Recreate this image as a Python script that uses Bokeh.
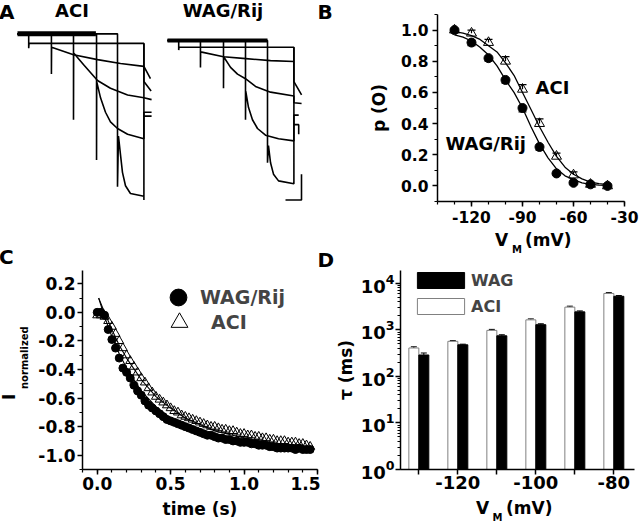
import math
from bokeh.plotting import figure
from bokeh.layouts import column, row
from bokeh.models import (Range1d, FixedTicker, Label, Legend, LegendItem, Whisker, Div,
                          ColumnDataSource, TeeHead, LogTicker, LogTickFormatter,
                          PrintfTickFormatter)
from bokeh.embed import file_html
from bokeh.resources import INLINE

FONT = "DejaVu Sans"

# ---------------- Panel A: current traces (time in s, current in nA) ----------------
ACI_T1 = [0, 0.7, 0.7, 0.72, 7.9, 7.9, 8.35]
ACI_I1 = [0, 0, -0.56, -0.37, -0.37, -1.85, -2.22]
ACI_T2 = [0, 2.12, 2.12, 2.13, 3.5, 5.0, 6.44, 7.9, 8.31]
ACI_I2 = [0, 0, -1.56, -0.52, -0.81, -1.0, -1.15, -1.26, -1.74]
ACI_T3 = [0, 3.5, 3.5, 3.51, 4.12, 5.0, 5.81, 6.88, 7.9, 8.38]
ACI_I3 = [0, 0, -3.33, -0.74, -1.19, -1.81, -2.11, -2.37, -2.48, -2.55]
ACI_T4 = [0, 4.94, 4.94, 4.95, 5.19, 5.5, 5.81, 6.25, 6.88, 7.9, 7.9, 8.38]
ACI_I4 = [0, 0, -4.89, -1.85, -2.48, -3.04, -3.41, -3.67, -3.89, -4.07, -3.04, -3.04]
ACI_T5 = [0, 6.25, 6.25, 6.31, 6.44, 6.56, 6.75, 7.06, 7.9, 7.9, 7.9, 7.9, 8.38]
ACI_I5 = [0, 0, -5.93, -3.96, -4.7, -5.37, -5.89, -6.19, -6.3, -6.44, -0.37, -3.19, -3.19]
ACI_BASE_T = [0, 4.9]
ACI_BASE_I = [0, 0]

WAG_T1 = [0, 0.7, 0.7, 0.72, 7.9, 7.9, 8.38]
WAG_I1 = [-0.26, -0.26, -0.63, -0.52, -0.52, -1.85, -2.37]
WAG_T2 = [0, 2.06, 2.06, 2.07, 3.5, 4.9, 6.44, 7.9]
WAG_I2 = [-0.26, -0.26, -1.30, -0.70, -0.89, -0.96, -1.04, -1.07]
WAG_T3 = [0, 3.5, 3.5, 3.51, 3.94, 4.375, 4.875, 5.5, 6.44, 7.9, 7.9, 8.38]
WAG_I3 = [-0.26, -0.26, -2.11, -0.89, -1.30, -1.56, -1.74, -2.04, -2.26, -2.41, -2.67, -2.70]
WAG_T4 = [0, 4.875, 4.875, 4.89, 5.06, 5.31, 5.625, 6.125, 6.94, 7.9, 7.9, 8.2]
WAG_I4 = [-0.26, -0.26, -3.33, -2.22, -2.85, -3.33, -3.67, -3.93, -4.07, -4.15, -3.15, -3.15]
WAG_T5 = [0, 6.25, 6.25, 6.31, 6.44, 6.625, 6.94, 7.9, 7.9, 7.9, 8.2, 8.2]
WAG_I5 = [-0.26, -0.26, -5.0, -4.33, -5.0, -5.44, -5.70, -5.81, -0.52, -3.52, -3.52, -3.89]
WAG_BASE_T = [0, 6.25]
WAG_BASE_I = [-0.26, -0.26]

SCALEBAR_T = 1.0   # s
SCALEBAR_I = 1.0   # nA

# ---------------- Panel B: p(O) vs V ----------------
B_V = [-130, -120, -110, -100, -90, -80, -70, -60, -50, -40]
B_WAG = [1.00, 0.92, 0.82, 0.68, 0.50, 0.25, 0.08, 0.02, 0.01, 0.00]
B_WAG_ERR = [0.01, 0.02, 0.02, 0.02, 0.025, 0.02, 0.01, 0.01, 0.01, 0.01]
B_ACI = [1.00, 0.98, 0.92, 0.80, 0.62, 0.40, 0.19, 0.07, 0.01, 0.00]
B_ACI_ERR = [0.01, 0.02, 0.02, 0.03, 0.03, 0.03, 0.02, 0.02, 0.01, 0.01]
B_FIT_V = [-130, -125, -120, -115, -110, -105, -100, -95, -90, -85, -80, -75, -70, -65, -60, -55, -50, -45, -40]
B_FIT_WAG = [0.97, 0.955, 0.93, 0.89, 0.84, 0.77, 0.68, 0.60, 0.50, 0.38, 0.27, 0.18, 0.11, 0.065, 0.04, 0.02, 0.01, 0.005, 0.003]
B_FIT_ACI = [0.99, 0.98, 0.965, 0.94, 0.90, 0.86, 0.79, 0.71, 0.60, 0.49, 0.38, 0.28, 0.19, 0.12, 0.075, 0.045, 0.025, 0.015, 0.008]

# ---------------- Panel C: normalized current vs time ----------------
C_T = [0.000, 0.025, 0.050, 0.075, 0.100, 0.125, 0.150, 0.175, 0.200, 0.225,
       0.250, 0.275, 0.300, 0.325, 0.350, 0.375, 0.400, 0.425, 0.450, 0.475,
       0.500, 0.525, 0.550, 0.575, 0.600, 0.625, 0.650, 0.675, 0.700, 0.725,
       0.750, 0.775, 0.800, 0.825, 0.850, 0.875, 0.900, 0.925, 0.950, 0.975,
       1.000, 1.025, 1.050, 1.075, 1.100, 1.125, 1.150, 1.175, 1.200, 1.225,
       1.250, 1.275, 1.300, 1.325, 1.350, 1.375, 1.400, 1.425, 1.450]
C_WAG = [0.00, 0.00, -0.02, -0.12, -0.19, -0.25, -0.32, -0.39, -0.42, -0.46,
         -0.51, -0.55, -0.58, -0.62, -0.65, -0.67, -0.69, -0.71, -0.73, -0.75,
         -0.76, -0.77, -0.78, -0.79, -0.80, -0.81, -0.82, -0.83, -0.84, -0.85,
         -0.86, -0.86, -0.87, -0.88, -0.88, -0.89, -0.89, -0.90, -0.90, -0.91,
         -0.91, -0.91, -0.92, -0.92, -0.93, -0.93, -0.93, -0.94, -0.94, -0.95,
         -0.95, -0.95, -0.95, -0.95, -0.96, -0.95, -0.96, -0.96, -0.96]
C_ACI = [-0.02, -0.02, -0.03, -0.06, -0.10, -0.15, -0.20, -0.25, -0.30, -0.34,
         -0.38, -0.42, -0.46, -0.49, -0.53, -0.56, -0.59, -0.61, -0.63, -0.65,
         -0.67, -0.69, -0.70, -0.72, -0.73, -0.74, -0.75, -0.76, -0.77, -0.78,
         -0.79, -0.80, -0.80, -0.81, -0.82, -0.82, -0.83, -0.83, -0.84, -0.85,
         -0.85, -0.86, -0.86, -0.87, -0.87, -0.88, -0.88, -0.89, -0.89, -0.90,
         -0.90, -0.90, -0.91, -0.91, -0.91, -0.92, -0.92, -0.93, -0.94]
C_FIT_T = [0.01, 0.05, 0.10, 0.15, 0.20, 0.30, 0.40, 0.50, 0.60, 0.80, 1.00, 1.20, 1.45]
C_FIT_WAG = [0.10, -0.03, -0.17, -0.29, -0.39, -0.55, -0.66, -0.74, -0.80, -0.87, -0.91, -0.94, -0.96]
C_FIT_ACI = [0.10, 0.00, -0.12, -0.23, -0.32, -0.47, -0.59, -0.67, -0.74, -0.83, -0.88, -0.92, -0.95]

# ---------------- Panel D: tau vs V ----------------
D_V = [-130, -120, -110, -100, -90, -80]
D_ACI = [410, 570, 980, 1650, 3100, 6100]
D_ACI_ERR = [25, 20, 50, 80, 150, 250]
D_WAG = [290, 480, 750, 1300, 2450, 5300]
D_WAG_ERR = [30, 15, 40, 60, 120, 200]


# ---------------- helpers ----------------
class Fig:
    def __init__(self, w, h, offx, offy, xr, yr, bl, br, bt, bb, logy=False, axes=True):
        self.w, self.h, self.offx, self.offy = w, h, offx, offy
        self.xr, self.yr = xr, yr
        self.bl, self.br, self.bt, self.bb = bl, br, bt, bb
        self.logy = logy
        kw = {}
        if not axes:
            kw = dict(x_axis_location=None, y_axis_location=None)
        self.p = figure(width=w, height=h, x_range=Range1d(*xr), y_range=Range1d(*yr),
                        y_axis_type="log" if logy else "linear",
                        output_backend="svg", toolbar_location=None,
                        min_border_left=bl, min_border_right=br,
                        min_border_top=bt, min_border_bottom=bb, **kw)
        self.p.outline_line_color = None
        self.p.grid.visible = False
        self.p.background_fill_color = "white"
        self.p.border_fill_color = "white"

    def d(self, X, Y):
        lx = X - self.offx
        ly = Y - self.offy
        fx = (lx - self.bl) / (self.w - self.bl - self.br)
        fy = (self.h - self.bb - ly) / (self.h - self.bt - self.bb)
        x = self.xr[0] + fx * (self.xr[1] - self.xr[0])
        if self.logy:
            l0, l1 = math.log10(self.yr[0]), math.log10(self.yr[1])
            y = 10 ** (l0 + fy * (l1 - l0))
        else:
            y = self.yr[0] + fy * (self.yr[1] - self.yr[0])
        return x, y

    def label(self, X, Y, text, size, align="left", baseline="alphabetic"):
        x, y = self.d(X, Y)
        self.p.add_layout(Label(x=x, y=y, text=text, text_font=FONT, text_font_style="bold",
                                text_font_size=f"{size}px", text_color="black",
                                text_align=align, text_baseline=baseline))


def style_axes(p, fs, std=3, mj=5, mn=3):
    for ax in p.axis:
        ax.axis_line_width = 1.5
        ax.major_tick_line_width = 1.5
        ax.minor_tick_line_width = 1.2
        ax.major_tick_out = mj
        ax.major_tick_in = 0
        ax.minor_tick_out = mn
        ax.minor_tick_in = 0
        ax.major_label_text_font = FONT
        ax.major_label_text_font_style = "bold"
        ax.major_label_text_font_size = f"{fs}px"
        ax.major_label_text_color = "black"
        ax.major_label_standoff = std
        ax.axis_label_text_font = FONT
        ax.axis_label_text_font_style = "bold"
        ax.axis_label_text_font_size = "17px"
        ax.axis_label_text_color = "black"


def one_legend(label, rend, vx, vy, gw, gh, standoff, fs):
    return Legend(items=[LegendItem(label=label, renderers=[rend])],
                  location=(vx, vy), glyph_width=gw, glyph_height=gh,
                  label_standoff=standoff, padding=0, margin=0, border_line_color=None,
                  background_fill_alpha=0, label_text_font=FONT, label_text_font_style="bold",
                  label_text_font_size=f"{fs}px", label_height=20)


# ---------------- Panel A ----------------
A = Fig(320, 270, 0, 0, (-1.0625, 18.9375), (-6.5, 0.75), 0, 0, 14, 69, axes=False)
pA = A.p
WAG_SHIFT = 9.375  # horizontal placement of the WAG/Rij trace group
pA.line(ACI_BASE_T, ACI_BASE_I, line_width=5, color="black")
pA.line([t + WAG_SHIFT for t in WAG_BASE_T], WAG_BASE_I, line_width=4, color="black")
for T, I in [(ACI_T1, ACI_I1), (ACI_T2, ACI_I2), (ACI_T3, ACI_I3), (ACI_T4, ACI_I4), (ACI_T5, ACI_I5)]:
    pA.line(T, I, line_width=1.6, color="black")
for T, I in [(WAG_T1, WAG_I1), (WAG_T2, WAG_I2), (WAG_T3, WAG_I3), (WAG_T4, WAG_I4), (WAG_T5, WAG_I5)]:
    pA.line([t + WAG_SHIFT for t in T], I, line_width=1.6, color="black")
sb_t, sb_i = 8.375 + WAG_SHIFT, -6.44
pA.line([sb_t - SCALEBAR_T, sb_t, sb_t], [sb_i, sb_i, sb_i + SCALEBAR_I], line_width=1.6, color="black")

# ---------------- Panel B ----------------
B = Fig(320, 270, 320, 0, (-140, -30), (-0.1, 1.1), 117, 16, 14, 69)
pB = B.p
style_axes(pB, 15.5, std=4)
pB.xaxis.ticker = FixedTicker(ticks=[-120, -90, -60, -30], minor_ticks=list(range(-140, -29, 10)))
pB.xaxis.formatter = PrintfTickFormatter(format="%d")
pB.yaxis.ticker = FixedTicker(ticks=[0, 0.2, 0.4, 0.6, 0.8, 1.0],
                              minor_ticks=[-0.1, 0, 0.1, 0.2, 0.3, 0.4, 0.5, 0.6, 0.7, 0.8, 0.9, 1.0, 1.1])
pB.yaxis.formatter = PrintfTickFormatter(format="%.1f")
pB.yaxis.axis_label = "p (O)"
pB.yaxis.axis_label_standoff = 9
pB.line(B_FIT_V, B_FIT_ACI, line_width=1.3, color="black")
pB.line(B_FIT_V, B_FIT_WAG, line_width=1.3, color="black")
srcBa = ColumnDataSource(dict(x=B_V, y=B_ACI, up=[a + e for a, e in zip(B_ACI, B_ACI_ERR)]))
srcBw = ColumnDataSource(dict(x=B_V, y=B_WAG, lo=[a - e for a, e in zip(B_WAG, B_WAG_ERR)]))
pB.add_layout(Whisker(source=srcBa, base="x", lower="y", upper="up", line_width=1.2,
                      upper_head=TeeHead(size=8, line_width=1.2), lower_head=None))
pB.add_layout(Whisker(source=srcBw, base="x", lower="lo", upper="y", line_width=1.2,
                      lower_head=TeeHead(size=8, line_width=1.2), upper_head=None))
pB.scatter("x", "y", source=srcBa, marker="triangle", size=10, fill_color=None, line_color="black", line_width=1)
pB.scatter("x", "y", source=srcBw, marker="circle", size=9, fill_color="black", line_color="black")
B.label(535, 87, "ACI", 18)
B.label(445, 143, "WAG/Rij", 18)

# ---------------- Panel C ----------------
C = Fig(320, 259, 0, 270, (-0.1, 1.5), (-1.1, 0.293), 82, 3, 0, 60)
pC = C.p
style_axes(pC, 17, std=2, mj=5, mn=3)
pC.xaxis.ticker = FixedTicker(ticks=[0, 0.5, 1.0, 1.5],
                              minor_ticks=[round(-0.1 + 0.1 * k, 1) for k in range(17)])
pC.xaxis.formatter = PrintfTickFormatter(format="%.1f")
pC.yaxis.ticker = FixedTicker(ticks=[-1.0, -0.8, -0.6, -0.4, -0.2, 0.0, 0.2],
                              minor_ticks=[round(-1.1 + 0.1 * k, 1) for k in range(14)])
pC.yaxis.formatter = PrintfTickFormatter(format="%.1f")
pC.xaxis.axis_label = "time (s)"
pC.xaxis.axis_label_standoff = 6
rc_aci = pC.scatter(C_T, C_ACI, marker="triangle", size=9, fill_color=None, line_color="black", line_width=1)
rc_wag = pC.scatter(C_T, C_WAG, marker="circle", size=8, fill_color="black", line_color="black")
pC.line(C_FIT_T, C_FIT_ACI, line_width=1.1, color="black")
pC.line(C_FIT_T, C_FIT_WAG, line_width=1.1, color="black")
pC.add_layout(one_legend("WAG/Rij", rc_wag, 75, 151, 42, 42, 1, 19))
pC.add_layout(one_legend("ACI", rc_aci, 76, 126, 42, 42, 11, 19))

# ---------------- Panel D ----------------
D = Fig(320, 259, 320, 270, (-134.7, -74.7), (1, 19000), 80, 6, 0, 60, logy=True)
pD = D.p
style_axes(pD, 18, std=1, mj=5, mn=3)
pD.xaxis.ticker = FixedTicker(ticks=[-130, -120, -110, -100, -90, -80])
pD.xaxis.formatter = PrintfTickFormatter(format="%d")
pD.xaxis.major_label_overrides = {-130: "", -110: "", -90: ""}
pD.yaxis.ticker = LogTicker(num_minor_ticks=10)
pD.yaxis.formatter = LogTickFormatter()
pD.yaxis.axis_label = "\u03c4 (ms)"
pD.yaxis.axis_label_standoff = 2
BW = 2.56
srcDa = ColumnDataSource(dict(x=[v - BW / 2 for v in D_V], top=D_ACI,
                              up=[a + e for a, e in zip(D_ACI, D_ACI_ERR)]))
srcDw = ColumnDataSource(dict(x=[v + BW / 2 for v in D_V], top=D_WAG,
                              up=[a + e for a, e in zip(D_WAG, D_WAG_ERR)]))
rd_aci = pD.vbar(x="x", top="top", bottom=1, width=BW, source=srcDa,
                 fill_color="white", line_color="#808080", line_width=1)
rd_wag = pD.vbar(x="x", top="top", bottom=1, width=BW, source=srcDw,
                 fill_color="black", line_color="black", line_width=1)
pD.add_layout(Whisker(source=srcDa, base="x", lower="top", upper="up", line_width=1,
                      upper_head=TeeHead(size=6, line_width=1), lower_head=None))
pD.add_layout(Whisker(source=srcDw, base="x", lower="top", upper="up", line_width=1,
                      upper_head=TeeHead(size=6, line_width=1), lower_head=None))
legD = Legend(items=[LegendItem(label="WAG", renderers=[rd_wag]),
                     LegendItem(label="ACI", renderers=[rd_aci])],
              location=(11, 153), glyph_width=59, glyph_height=20, spacing=6,
              label_standoff=1, padding=0, margin=0, border_line_color=None,
              background_fill_alpha=0, label_text_font=FONT, label_text_font_style="bold",
              label_text_font_size="16px", label_height=20)
pD.add_layout(legD)


# ---------------- texts outside the plot frames (HTML overlay) ----------------
DX, DY = -3, -3      # small correction of the overlay placement
LH = 0.8             # line-height (em) of the overlay text boxes
BASE = (LH - 1.164) / 2 + 0.928   # baseline position inside the box (em)


def htext(text, left, base, size, center=False):
    top = base + DY - BASE * size
    tr = "transform:translateX(-50%);" if center else ""
    return (f'<span style="position:absolute;left:{left + DX:.1f}px;top:{top:.1f}px;'
            f"font-family:'DejaVu Sans';font-weight:bold;font-size:{size}px;"
            f'line-height:{LH * size:.1f}px;white-space:nowrap;color:#000;margin:0;padding:0;{tr}">{text}</span>')


def vtext(text, base_x, start_y, size):
    left = base_x + DX - BASE * size
    return (f'<span style="position:absolute;left:{left:.1f}px;top:{start_y + DY:.1f}px;'
            f"font-family:'DejaVu Sans';font-weight:bold;font-size:{size}px;"
            f'line-height:{LH * size:.1f}px;white-space:nowrap;color:#000;margin:0;padding:0;'
            f'transform-origin:0 0;transform:rotate(-90deg);">{text}</span>')


parts = [
    htext("A", 2, 22, 20),
    htext("ACI", 75, 20.5, 18, center=True),
    htext("WAG/Rij", 226, 20.5, 18, center=True),
    htext("C", 2, 267, 20),
    htext("B", 320.5, 22, 20),
    htext("D", 320.5, 269.5, 20),
    htext("V", 498, 249.5, 17), htext("M", 515, 256.5, 10), htext("(mV)", 528, 249.5, 17),
    htext("V", 479, 517.5, 17), htext("M", 495.5, 524.5, 10), htext("(mV)", 509, 517.5, 17),
    vtext("I", 18.3, 403, 17), vtext("normalized", 31.7, 392, 10),
]
overlay = Div(text='<div style="position:relative;width:640px;height:529px;margin:0;padding:0;">'
                   + "".join(parts) + "</div>",
              width=640, height=529, margin=0,
              styles={"position": "absolute", "left": "0px", "top": "0px", "margin": "0px",
                      "padding": "0px", "z-index": "10", "pointer-events": "none"})

layout = column(row(pA, pB), row(pC, pD), overlay)
open("out.html", "w").write(file_html(layout, INLINE))
